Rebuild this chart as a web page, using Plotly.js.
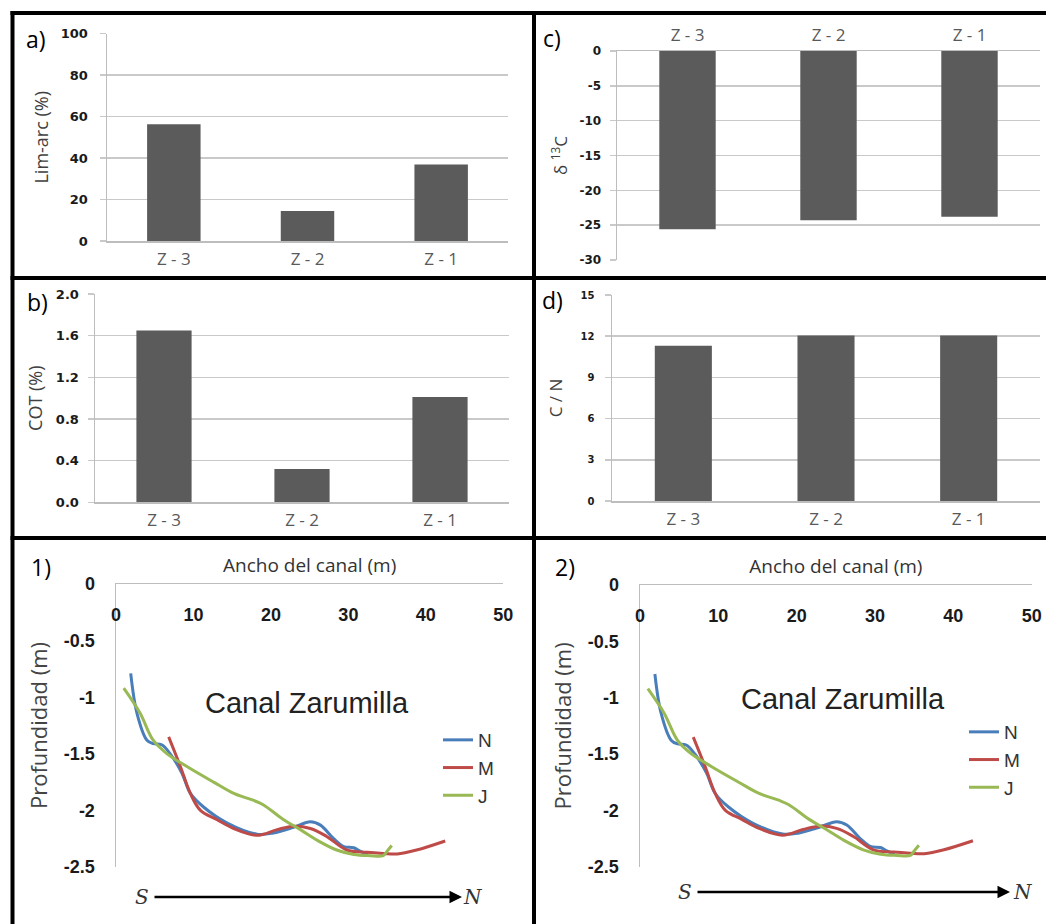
<!DOCTYPE html>
<html>
<head>
<meta charset="utf-8">
<script src="https://cdn.plot.ly/plotly-3.0.1.min.js"></script>
<style>
html,body{margin:0;padding:0;background:#fff;}
#chart{width:1046px;height:924px;}
</style>
</head>
<body>
<div id="chart"></div>
<script>
// ---------- DATA ----------
const categories = ['Z - 3', 'Z - 2', 'Z - 1'];
const limArc = [56.3, 14.4, 36.9];      // a) Lim-arc (%)
const cot = [1.65, 0.32, 1.01];         // b) COT (%)
const d13C = [-25.6, -24.3, -23.8];     // c) δ13C
const cn = [11.3, 12.05, 12.05];        // d) C / N

const ticksA = [0, 20, 40, 60, 80, 100];
const ticksAText = ['0', '20', '40', '60', '80', '100'];
const ticksB = [0, 0.4, 0.8, 1.2, 1.6, 2.0];
const ticksBText = ['0.0', '0.4', '0.8', '1.2', '1.6', '2.0'];
const ticksC = [0, -5, -10, -15, -20, -25, -30];
const ticksCText = ['0', '-5', '-10', '-15', '-20', '-25', '-30'];
const ticksD = [0, 3, 6, 9, 12, 15];
const ticksDText = ['0', '3', '6', '9', '12', '15'];

const profXTicks = [0, 10, 20, 30, 40, 50];
const profXText = ['0', '10', '20', '30', '40', '50'];
const profYTicks = [0, -0.5, -1, -1.5, -2, -2.5];
const profYText = ['0', '-0.5', '-1', '-1.5', '-2', '-2.5'];

const seriesNames = ['N', 'M', 'J'];
const nX = [1.9, 2.7, 4.0, 4.8, 5.9, 7.0, 8.5, 9.6, 11.3, 14.3, 18.2, 20.3, 22.9, 25.1, 26.4, 28.1, 29.4, 30.7, 31.5, 32.5];
const nY = [-0.79, -1.14, -1.38, -1.41, -1.42, -1.50, -1.67, -1.85, -1.97, -2.11, -2.21, -2.20, -2.15, -2.10, -2.13, -2.25, -2.32, -2.33, -2.36, -2.39];
const mX = [6.8, 8.3, 9.6, 10.9, 13.0, 15.2, 18.2, 20.8, 22.9, 25.1, 27.2, 29.8, 32.4, 34.5, 36.3, 38.8, 42.5];
const mY = [-1.35, -1.61, -1.85, -2.00, -2.08, -2.16, -2.22, -2.17, -2.14, -2.16, -2.23, -2.35, -2.37, -2.38, -2.385, -2.35, -2.27];
const jX = [1.0, 3.1, 4.8, 6.6, 9.1, 12.6, 15.2, 17.7, 19.0, 21.6, 23.8, 26.4, 28.5, 30.7, 32.8, 34.5, 35.0, 35.6];
const jY = [-0.92, -1.14, -1.38, -1.50, -1.61, -1.75, -1.85, -1.91, -1.95, -2.08, -2.17, -2.28, -2.35, -2.39, -2.40, -2.40, -2.36, -2.31];

// ---------- STYLE ----------
const W = 1046, H = 924;
const X = px => px / W;
const Y = py => 1 - py / H;
const BAR = '#5b5b5b';
const GRID = '#c9c9c9';
const AXL = '#bdbdbd';
const SANS = 'Open Sans, Noto Sans, Liberation Sans, Arial, sans-serif';
const ARIAL = 'Liberation Sans, Arial, sans-serif';
const DJ = 'DejaVu Sans, Liberation Sans, Arial, sans-serif';
const lineColors = ['#4a7ebb', '#be4b48', '#98b954'];

function catAxis(domain, anchor, side) {
  return {
    domain: domain, anchor: anchor, side: side || 'bottom',
    type: 'category', categoryorder: 'array', categoryarray: categories,
    range: [-0.5, 2.5], showgrid: false, zeroline: false,
    showline: true, linecolor: AXL, linewidth: 1.5, ticks: '',
    ticklabelstandoff: 2,
    tickfont: {family: SANS, size: 17, color: '#595959'},
    fixedrange: true
  };
}
function valAxis(domain, anchor, range, tv, tt, title, tsize, fsize, standoff, lstand) {
  return {
    domain: domain, anchor: anchor, range: range,
    tickmode: 'array', tickvals: tv, ticktext: tt,
    showgrid: true, gridcolor: GRID, gridwidth: 1.5, zeroline: false,
    showline: true, linecolor: AXL, linewidth: 1.5,
    ticks: 'outside', ticklen: 6, tickcolor: GRID, tickwidth: 1.5,
    ticklabelstandoff: lstand,
    tickfont: {family: DJ, size: fsize, color: '#1a1a1a', weight: 'bold'},
    title: {text: title, font: {family: SANS, size: tsize, color: '#404040'}, standoff: standoff},
    fixedrange: true
  };
}
function profX(domain, anchor) {
  return {
    domain: domain, anchor: anchor, side: 'top', range: [0, 50],
    showticklabels: false, showgrid: false, zeroline: false,
    showline: true, linecolor: AXL, linewidth: 1.5, ticks: '',
    title: {text: 'Ancho del canal (m)', font: {family: SANS, size: 19, color: '#333'}, standoff: 5},
    fixedrange: true
  };
}
function profXLabels(over, ypx) {
  return {
    overlaying: over, anchor: 'free', position: Y(ypx), side: 'bottom', range: [0, 50],
    tickmode: 'array', tickvals: profXTicks, ticktext: profXText,
    showgrid: false, zeroline: false, showline: false, ticks: '',
    tickfont: {family: ARIAL, size: 18, color: '#1a1a1a', weight: 'bold'},
    fixedrange: true
  };
}
function profY(domain, anchor) {
  return {
    domain: domain, anchor: anchor, range: [-2.5, 0],
    tickmode: 'array', tickvals: profYTicks, ticktext: profYText,
    showgrid: false, zeroline: false, showline: true, linecolor: AXL, linewidth: 1.5,
    ticks: '', ticklabelstandoff: 16,
    tickfont: {family: ARIAL, size: 18, color: '#1a1a1a', weight: 'bold'},
    title: {text: 'Profundidad (m)', font: {family: SANS, size: 22, color: '#444'}, standoff: 10},
    fixedrange: true
  };
}

const traces = [
  {type: 'bar', x: categories, y: limArc, xaxis: 'x', yaxis: 'y', marker: {color: BAR}, showlegend: false},
  {type: 'bar', x: categories, y: cot, xaxis: 'x2', yaxis: 'y2', marker: {color: BAR}, showlegend: false},
  {type: 'bar', x: categories, y: d13C, xaxis: 'x3', yaxis: 'y3', marker: {color: BAR}, showlegend: false},
  {type: 'bar', x: categories, y: cn, xaxis: 'x4', yaxis: 'y4', marker: {color: BAR}, showlegend: false}
];
const profData = [[nX, nY], [mX, mY], [jX, jY]];
[['x5', 'y5', 'legend', 'x7'], ['x6', 'y6', 'legend2', 'x8']].forEach(function (ax) {
  profData.forEach(function (d, i) {
    traces.push({
      type: 'scatter', mode: 'lines', x: d[0], y: d[1], name: seriesNames[i],
      xaxis: ax[0], yaxis: ax[1], legend: ax[2],
      line: {color: lineColors[i], width: 3, shape: 'spline', smoothing: 1}
    });
  });
  // carrier for the tick-label axis (draws nothing)
  traces.push({type: 'scatter', mode: 'none', x: profXTicks, y: profXTicks.map(() => null),
    xaxis: ax[3], yaxis: ax[1], showlegend: false, hoverinfo: 'skip'});
});

const border = {type: 'line', xref: 'paper', yref: 'paper', line: {color: '#000', width: 4}};
const shapes = [
  Object.assign({}, border, {x0: X(10.5), x1: X(1046), y0: Y(13), y1: Y(13)}),
  Object.assign({}, border, {x0: X(12.5), x1: X(12.5), y0: Y(11), y1: Y(924)}),
  Object.assign({}, border, {x0: X(534), x1: X(534), y0: Y(11), y1: Y(924)}),
  Object.assign({}, border, {x0: X(10.5), x1: X(1046), y0: Y(278), y1: Y(278)}),
  Object.assign({}, border, {x0: X(10.5), x1: X(1046), y0: Y(538), y1: Y(538)})
];

function label(text, cx, cy, size, extra) {
  return Object.assign({
    text: text, xref: 'paper', yref: 'paper', x: X(cx), y: Y(cy),
    xanchor: 'center', yanchor: 'middle', showarrow: false,
    font: {family: SANS, size: size, color: '#000'}
  }, extra || {});
}
const SERIF = {family: 'DejaVu Serif, Liberation Serif, serif', size: 20, color: '#333', style: 'italic'};
function arrowS(sx, headx, yy) {
  return {text: 'S', font: SERIF, xref: 'paper', yref: 'paper', x: X(headx), y: Y(yy),
    ax: sx - headx, ay: 0, showarrow: true, arrowhead: 2, arrowsize: 1,
    arrowwidth: 2.5, arrowcolor: '#000', standoff: 0, startstandoff: 4};
}
const annotations = [
  label('a)', 36, 39, 23),
  label('b)', 37, 302, 23),
  label('c)', 552, 38, 23),
  label('d)', 552, 300, 23),
  label('1)', 41, 567, 23),
  label('2)', 565, 567, 23),
  label('Canal Zarumilla', 307, 703, 29, {font: {family: ARIAL, size: 29, color: '#222'}}),
  label('Canal Zarumilla', 843, 699, 29, {font: {family: ARIAL, size: 29, color: '#222'}}),
  arrowS(142, 462, 897),
  label('N', 473, 897, 20, {font: SERIF}),
  arrowS(685, 1010, 892),
  label('N', 1023, 892, 20, {font: SERIF})
];

const legendBase = {
  xanchor: 'left', yanchor: 'top', bgcolor: 'rgba(0,0,0,0)', borderwidth: 0,
  font: {family: ARIAL, size: 19, color: '#333'}, itemwidth: 30, tracegroupgap: 0
};

const layout = {
  width: W, height: H, autosize: false,
  margin: {l: 0, r: 0, t: 0, b: 0},
  paper_bgcolor: '#fff', plot_bgcolor: '#fff',
  bargap: 0.6, showlegend: true,
  xaxis: catAxis([X(107), X(508)], 'y'),
  yaxis: valAxis([Y(241), Y(33.5)], 'x', [0, 100], ticksA, ticksAText, 'Lim-arc (%)', 18, 13, 7, 9),
  xaxis2: catAxis([X(95), X(509)], 'y2'),
  yaxis2: valAxis([Y(502.3), Y(294)], 'x2', [0, 2], ticksB, ticksBText, 'COT (%)', 18, 13, 8, 6),
  xaxis3: catAxis([X(617), X(1040)], 'y3', 'top'),
  yaxis3: valAxis([Y(260), Y(51)], 'x3', [-30, 0], ticksC, ticksCText, 'δ <sup>13</sup>C', 17, 12, 7, 6),
  xaxis4: catAxis([X(612), X(1040)], 'y4'),
  yaxis4: valAxis([Y(501), Y(295)], 'x4', [0, 15], ticksD, ticksDText, 'C / N', 17, 10, 13, 8),
  xaxis5: profX([X(116), X(503.3)], 'y5'),
  yaxis5: profY([Y(867), Y(584)], 'x5'),
  xaxis7: profXLabels('x5', 602),
  xaxis6: profX([X(640), X(1031.7)], 'y6'),
  yaxis6: profY([Y(866.7), Y(585)], 'x6'),
  xaxis8: profXLabels('x6', 603),
  legend: Object.assign({}, legendBase, {x: X(438), y: Y(721)}),
  legend2: Object.assign({}, legendBase, {x: X(964), y: Y(713)}),
  shapes: shapes,
  annotations: annotations
};

Plotly.newPlot('chart', traces, layout, {staticPlot: true, displayModeBar: false});
</script>
</body>
</html>
